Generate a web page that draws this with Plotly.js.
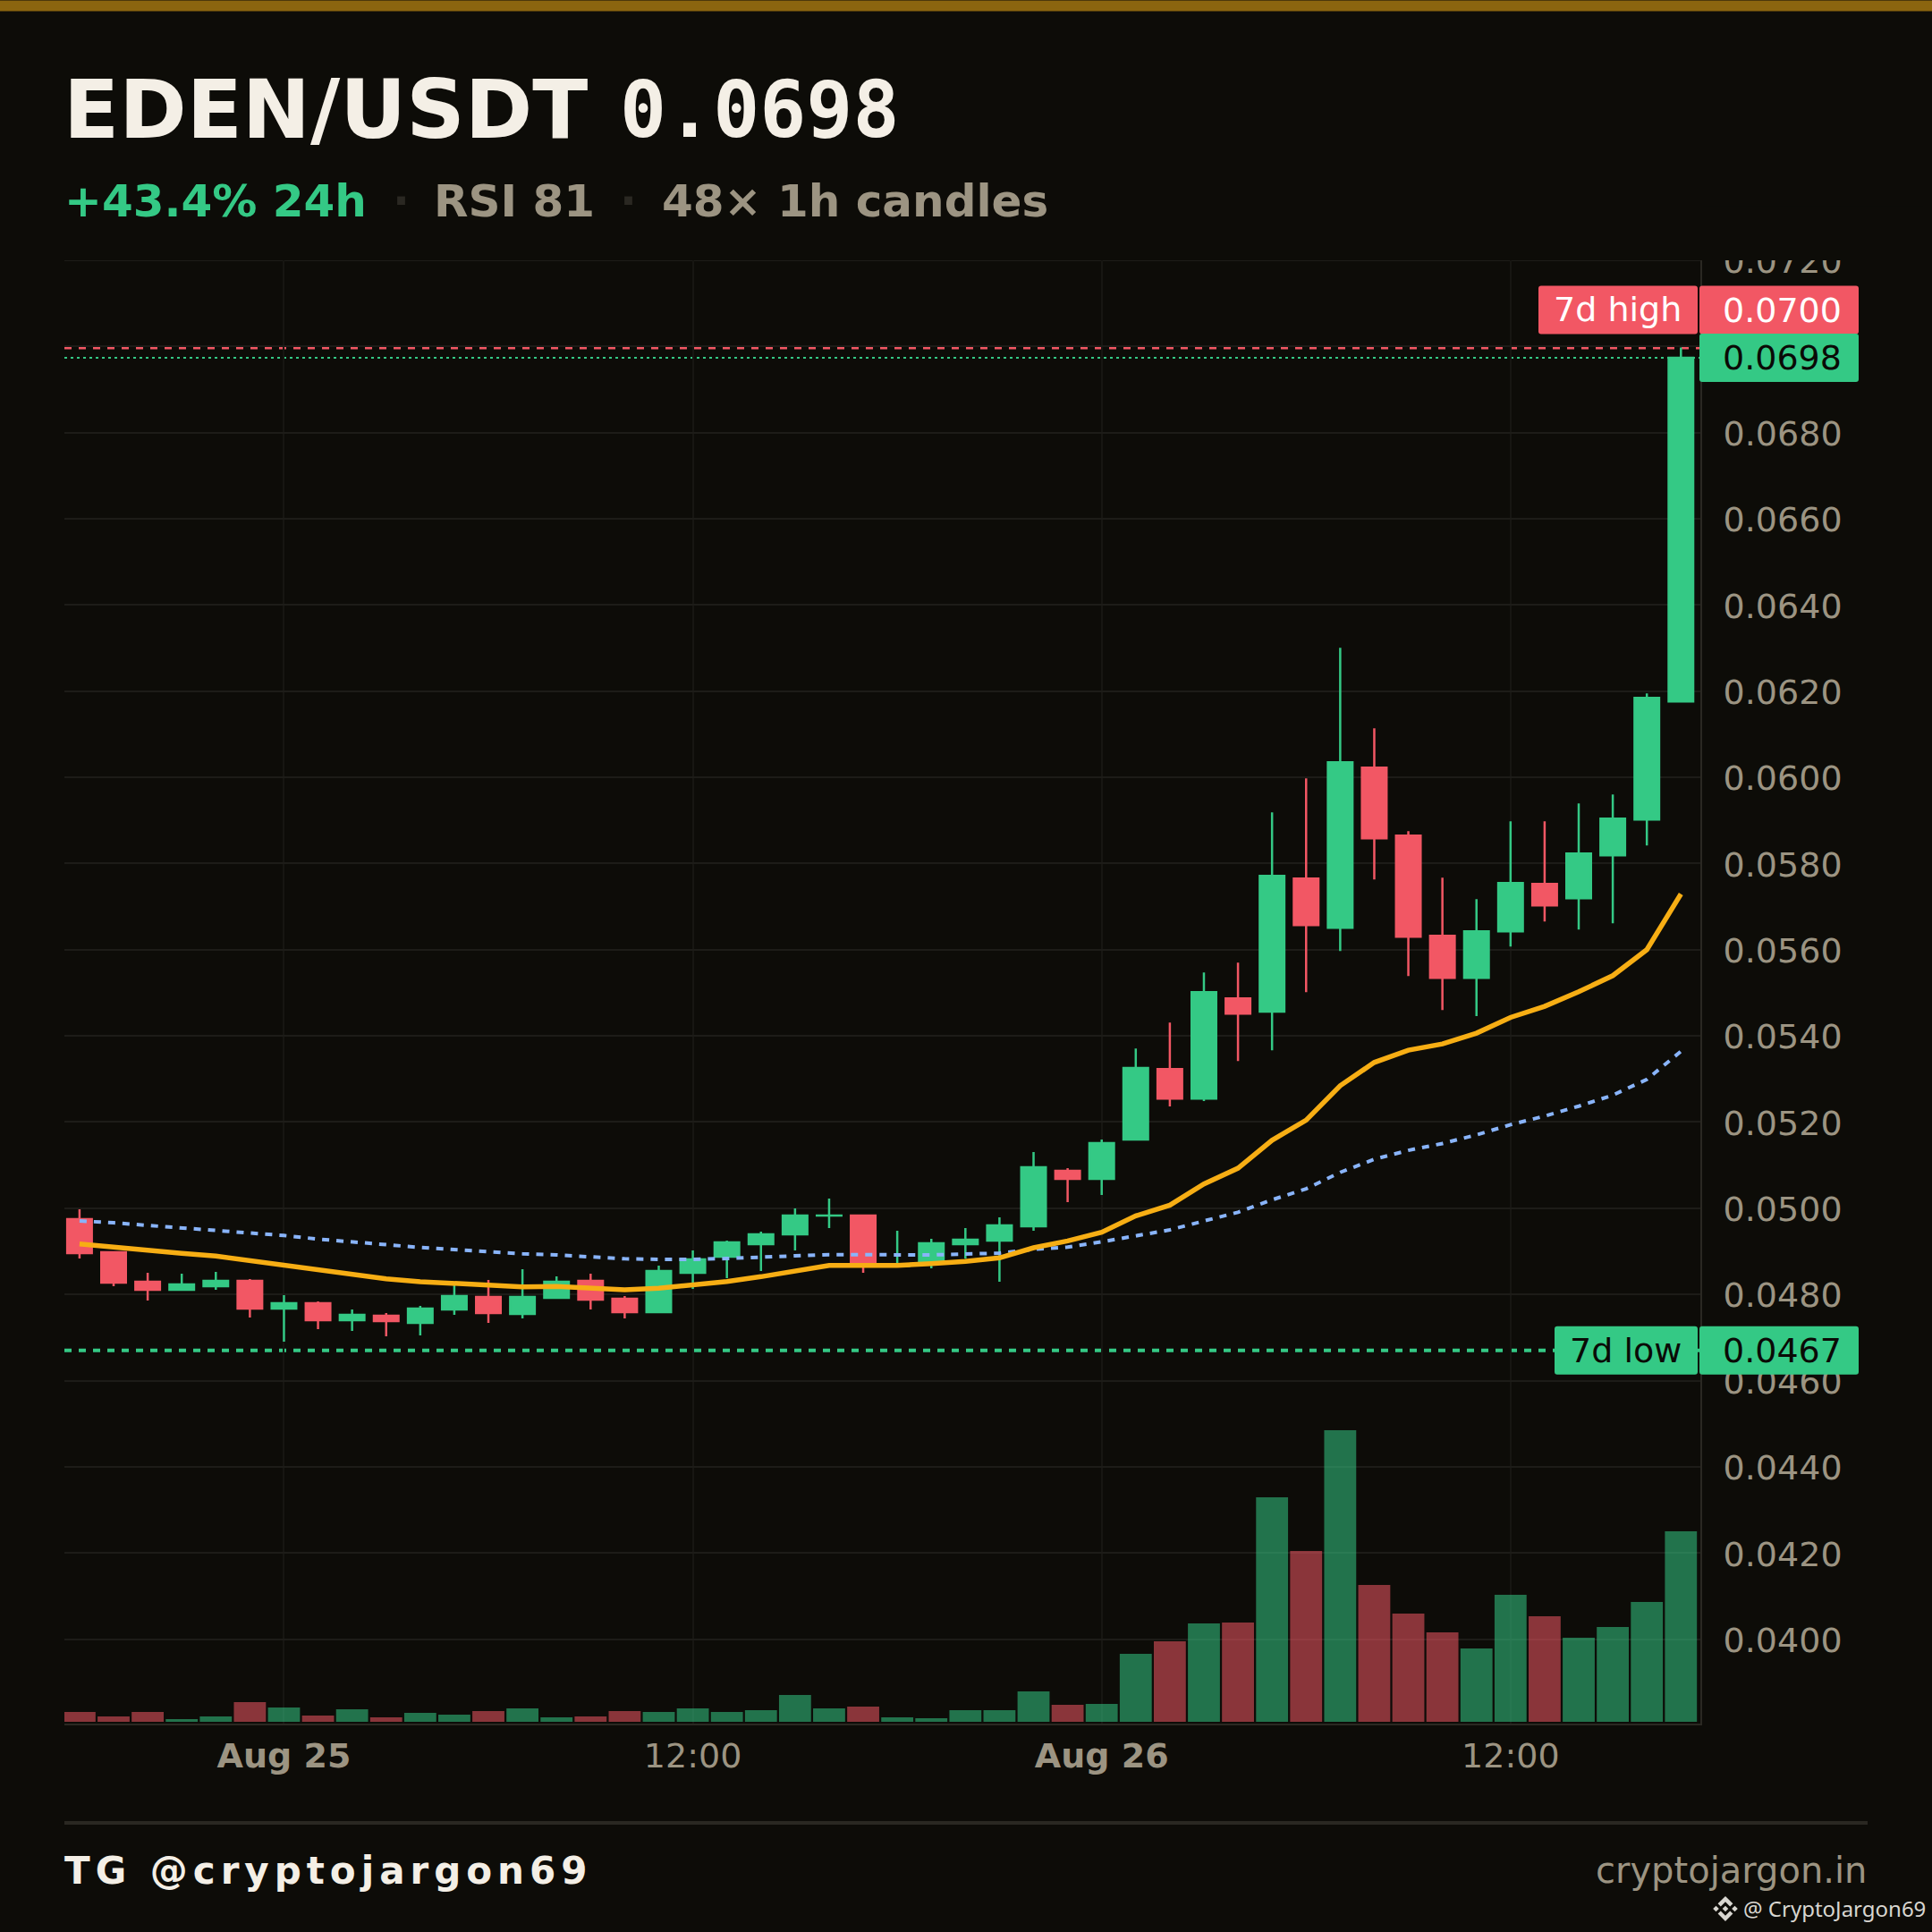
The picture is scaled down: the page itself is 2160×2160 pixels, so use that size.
<!DOCTYPE html>
<html>
<head>
<meta charset="utf-8">
<script src="https://cdn.plot.ly/plotly-3.0.1.min.js"></script>
<style>
html,body{margin:0;padding:0;background:#0d0c08;}
#chart{width:2160px;height:2160px;}
.annotation[data-index="0"] text{letter-spacing:6px;}
</style>
</head>
<body>
<div id="chart"></div>
<script>
const times = ["2025-08-24 18:00","2025-08-24 19:00","2025-08-24 20:00","2025-08-24 21:00","2025-08-24 22:00","2025-08-24 23:00",
"2025-08-25 00:00","2025-08-25 01:00","2025-08-25 02:00","2025-08-25 03:00","2025-08-25 04:00","2025-08-25 05:00","2025-08-25 06:00","2025-08-25 07:00","2025-08-25 08:00","2025-08-25 09:00","2025-08-25 10:00","2025-08-25 11:00","2025-08-25 12:00","2025-08-25 13:00","2025-08-25 14:00","2025-08-25 15:00","2025-08-25 16:00","2025-08-25 17:00","2025-08-25 18:00","2025-08-25 19:00","2025-08-25 20:00","2025-08-25 21:00","2025-08-25 22:00","2025-08-25 23:00",
"2025-08-26 00:00","2025-08-26 01:00","2025-08-26 02:00","2025-08-26 03:00","2025-08-26 04:00","2025-08-26 05:00","2025-08-26 06:00","2025-08-26 07:00","2025-08-26 08:00","2025-08-26 09:00","2025-08-26 10:00","2025-08-26 11:00","2025-08-26 12:00","2025-08-26 13:00","2025-08-26 14:00","2025-08-26 15:00","2025-08-26 16:00","2025-08-26 17:00"];
const open = [.049747,.048979,.048295,.048108,.048191,.048315,.047672,.047797,.047402,.047506,.047340,.047651,.047942,.047548,.047921,.048315,.047900,.047589,.048502,.048875,.049166,.049394,.049828,.049830,.048661,.048772,.049166,.049249,.049581,.050867,.050680,.051593,.053232,.052547,.054871,.054561,.057652,.056511,.060225,.058648,.056324,.055349,.056428,.057527,.057196,.058191,.059021,.061760];
const close = [.048958,.048274,.048108,.048232,.048315,.047672,.047797,.047402,.047527,.047382,.047672,.047963,.047568,.047942,.048295,.047880,.047589,.048543,.048813,.049207,.049394,.049830,.049832,.048668,.048689,.049187,.049270,.049602,.050950,.050680,.051510,.053253,.052547,.055016,.054519,.057714,.056573,.060349,.058586,.056303,.055349,.056428,.057548,.057030,.058233,.059042,.061843,.069735];
const high = [.049975,.048979,.048502,.048481,.048523,.048357,.047983,.047838,.047651,.047568,.047734,.048253,.048336,.048585,.048419,.048481,.047963,.048668,.049021,.049249,.049456,.049996,.050224,.049851,.049477,.049290,.049539,.049788,.051303,.050929,.051593,.053709,.054311,.055473,.055701,.059187,.059976,.063005,.061138,.058752,.057673,.057175,.058980,.058980,.059395,.059602,.061947,.069975];
const low = [.048834,.048191,.047859,.048108,.048108,.047465,.046904,.047195,.047153,.047029,.047050,.047527,.047340,.047444,.047921,.047651,.047444,.047589,.048129,.048378,.048543,.049021,.049539,.048502,.048661,.048606,.048827,.048295,.049477,.050141,.050307,.051593,.052361,.052485,.053419,.053668,.055017,.055971,.057631,.055391,.054602,.054457,.056075,.056656,.056470,.056615,.058420,.061760];
const volume = [11,6,11,3,6,22,16,7,14,5,10,8,12,15,5,6,12,11,15,11,13,30,15,17,5,4,13,13,34,19,20,76,90,110,111,251,191,326,153,121,100,82,142,118,94,106,134,213];
const maFast = [.049173,.049090,.049007,.048952,.048889,.048779,.048675,.048564,.048474,.048364,.048295,.048260,.048198,.048177,.048184,.048156,.048108,.048142,.048212,.048301,.048412,.048557,.048675,.048675,.048675,.048716,.048765,.048848,.049083,.049242,.049442,.049823,.050071,.050563,.050929,.051579,.052043,.052845,.053384,.053668,.053814,.054063,.054429,.054685,.055024,.055398,.056000,.057292];
const maSlow = [.049705,.049664,.049602,.049546,.049498,.049422,.049367,.049284,.049214,.049145,.049090,.049041,.048986,.048945,.048917,.048875,.048827,.048813,.048813,.048834,.048855,.048896,.048924,.048917,.048910,.048917,.048938,.048958,.049048,.049097,.049221,.049359,.049498,.049705,.049906,.050196,.050452,.050832,.051137,.051344,.051503,.051704,.051939,.052140,.052368,.052624,.052990,.053640];
const xTickVals = ["2025-08-25 00:00","2025-08-25 12:00","2025-08-26 00:00","2025-08-26 12:00"];
const xTickText = ["<b>Aug 25</b>","12:00","<b>Aug 26</b>","12:00"];
const high7d = 0.069975, low7d = 0.0467, last = 0.069735, yTop = 0.0720, yBottom = 0.03804;
const high7dLabel = "0.0700", low7dLabel = "0.0467", lastLabel = "0.0698";
const title = "EDEN/USDT", priceText = "0.0698", change = "+43.4% 24h", rsi = "RSI 81", candlesText = "48× 1h candles";

const BG="#0d0c08", GREEN="#34c985", RED="#f25764", CREAM="#f4efe6", MUTED="#9c9482", DIM="#2a2822", GRID="#1d1c18";
const L=72,R=1901,T=290.5,B=1927,W=R-L,H=B-T;
const xStart="2025-08-24 17:33:22", xEnd="2025-08-26 17:34:12";
const px=x=>(x-L)/W, py=y=>(B-y)/H;
const DJ="DejaVu Sans", MONO="DejaVu Sans Mono";

function roundBox(x0,x1,y0,y1,r){
  return `M${x0+r},${y0} L${x1-r},${y0} Q${x1},${y0} ${x1},${y0+r} L${x1},${y1-r} Q${x1},${y1} ${x1-r},${y1} L${x0+r},${y1} Q${x0},${y1} ${x0},${y1-r} L${x0},${y0+r} Q${x0},${y0} ${x0+r},${y0} Z`;
}
const tagShape=(val,color,x0,x1,y0,y1)=>({type:"path",layer:"above",xref:"paper",yref:"y2",xsizemode:"pixel",ysizemode:"pixel",xanchor:1,yanchor:val,path:roundBox(x0,x1,y0,y1,3),fillcolor:color,line:{width:0}});
const pxLine=(val,color,w,dash)=>({type:"line",layer:"below",xref:"x",yref:"y2",x0:xStart,x1:xEnd,y0:val,y1:val,line:{color:color,width:w,dash:dash}});
const pxRect=(x0,y0,x1,y1,color)=>({type:"rect",layer:"above",xref:"paper",yref:"paper",x0:px(x0),x1:px(x1),y0:py(y0),y1:py(y1),fillcolor:color,line:{width:0}});
const logoPart=p=>({type:"path",layer:"above",xref:"paper",yref:"paper",xsizemode:"pixel",ysizemode:"pixel",xanchor:px(1929),yanchor:py(2134),path:p,fillcolor:"#d8d6d0",line:{width:0}});

const txt=(t,x,y,size,color,o={})=>Object.assign({text:t,xref:"paper",yref:"paper",x:px(x),y:py(y),xanchor:"left",yanchor:"middle",showarrow:false,borderpad:0,font:{family:DJ,size:size,color:color}},o);
const tag=(t,val,shift,color,side)=>({text:t,xref:"paper",yref:"y2",x:1,y:val,yanchor:"middle",yshift:shift,showarrow:false,borderpad:0,xanchor:side>0?"left":"right",xshift:side>0?24:-20,font:{family:DJ,size:38,color:color}});

const annotations=[
 txt("<b>TG @cryptojargon69</b>",125,2092,42,CREAM),
 txt("<b>"+title+"</b>",70,122,91,CREAM),
 txt("<b>"+priceText+"</b>",692,122,86.5,CREAM,{font:{family:MONO,size:86.5,color:CREAM}}),
 txt("<b>"+change+"</b>",71,224,50,GREEN),
 txt("<b>·</b>",438,224,50,DIM),
 txt("<b>"+rsi+"</b>",484,224,50,MUTED),
 txt("<b>·</b>",692,224,50,DIM),
 txt("<b>"+candlesText+"</b>",739,224,50,MUTED),
 txt("cryptojargon.in",2088,2091.5,40,MUTED,{xanchor:"right"}),
 txt("@ CryptoJargon69",1948,2134,24,"#d8d6d0",{font:{family:"Noto Sans",size:24,color:"#d8d6d0"}}),
 tag("7d high",high7d,43,"#ffffff",-1),
 tag(high7dLabel,high7d,42,"#ffffff",1),
 tag(lastLabel,last,0,"#0a0a06",1),
 tag("7d low",low7d,0,"#0a0a06",-1),
 tag(low7dLabel,low7d,0,"#0a0a06",1)
];

const shapes=[
 pxLine(yTop,GRID,2,"solid"),
 pxLine(high7d,RED,4,"8px,8px"),
 pxLine(last,GREEN,2,"3px,4px"),
 pxLine(low7d,GREEN,4,"8px,8px"),
 pxRect(0,0,2160,12,"#8b650f"),
 pxRect(1904,230,2150,T,BG),
 pxRect(72,2036,2088,2040,DIM),
 tagShape(high7d,RED,-181,-3,15,69),
 tagShape(high7d,RED,-1,177,15,69),
 tagShape(last,GREEN,-1,177,-27,27),
 tagShape(low7d,GREEN,-163,-3,-27,27),
 tagShape(low7d,GREEN,-1,177,-27,27),
 logoPart("M0,14 L8.4,5.6 L5.2,2.5 L0,7.7 L-5.2,2.5 L-8.4,5.6 Z"),
 logoPart("M0,-14 L8.4,-5.6 L5.2,-2.5 L0,-7.7 L-5.2,-2.5 L-8.4,-5.6 Z"),
 logoPart("M0,3.3 L3.3,0 L0,-3.3 L-3.3,0 Z"),
 logoPart("M-10.5,3.3 L-7.2,0 L-10.5,-3.3 L-13.8,0 Z"),
 logoPart("M10.5,3.3 L13.8,0 L10.5,-3.3 L7.2,0 Z")
];

const volColors=close.map((c,i)=>c>=open[i]?GREEN:RED);
const traces=[
 {type:"bar",x:times,y:volume,xaxis:"x",yaxis:"y",marker:{color:volColors,opacity:0.55,line:{width:0}},hoverinfo:"skip",showlegend:false},
 {type:"candlestick",x:times,open:open,high:high,low:low,close:close,xaxis:"x",yaxis:"y2",whiskerwidth:0,
  increasing:{line:{color:GREEN,width:2.5},fillcolor:GREEN},decreasing:{line:{color:RED,width:2.5},fillcolor:RED},showlegend:false},
 {type:"scatter",mode:"lines",x:times,y:maSlow,xaxis:"x",yaxis:"y2",line:{color:"#89b4fa",width:4,dash:"8px,8px"},showlegend:false},
 {type:"scatter",mode:"lines",x:times,y:maFast,xaxis:"x",yaxis:"y2",line:{color:"#f7ae14",width:5.5},showlegend:false}
];

const layout={
 width:2160,height:2160,autosize:false,
 paper_bgcolor:BG,plot_bgcolor:"rgba(0,0,0,0)",
 margin:{l:L,r:2160-R,t:T,b:2160-B,pad:0},
 bargap:0.06,boxgap:0.278,boxgroupgap:0,showlegend:false,
 font:{family:DJ,color:MUTED,size:38},
 xaxis:{type:"date",range:[xStart,xEnd],rangeslider:{visible:false},
  tickmode:"array",tickvals:xTickVals,ticktext:xTickText,tickangle:0,
  showgrid:true,gridcolor:"#171612",gridwidth:2,zeroline:false,
  showline:true,linecolor:DIM,linewidth:2,ticks:"outside",ticklen:1,tickcolor:"rgba(0,0,0,0)",
  tickfont:{family:DJ,size:38,color:MUTED}},
 yaxis:{domain:[0,1],range:[-2,H-2],visible:false,showgrid:false,zeroline:false,fixedrange:true},
 yaxis2:{overlaying:"y",side:"right",anchor:"x",range:[yBottom,yTop],dtick:0.002,tick0:0,tickformat:".4f",
  showgrid:true,gridcolor:GRID,gridwidth:2,zeroline:false,
  showline:true,linecolor:DIM,linewidth:2,ticks:"outside",ticklen:16,tickcolor:"rgba(0,0,0,0)",ticklabelshift:1,
  tickfont:{family:DJ,size:38,color:MUTED}},
 annotations:annotations,shapes:shapes
};
Plotly.newPlot("chart",traces,layout,{displayModeBar:false,responsive:false,staticPlot:true});
</script>
</body>
</html>
